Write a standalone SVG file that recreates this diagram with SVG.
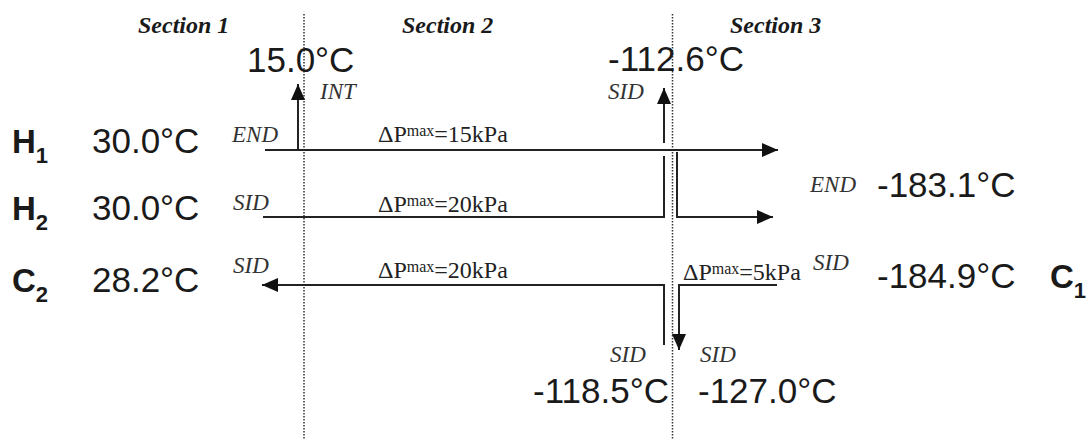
<svg xmlns="http://www.w3.org/2000/svg" width="1090" height="439" viewBox="0 0 1090 439">
<style>
.sec{font-family:"Liberation Serif",serif;font-weight:bold;font-style:italic;font-size:24px;fill:#1a1a1a}
.tag{font-family:"Liberation Serif",serif;font-style:italic;font-size:23px;fill:#333}
.dp{font-family:"Liberation Serif",serif;font-size:24px;fill:#222}
.sup{font-size:16px}
.temp{font-family:"Liberation Sans",Arial,sans-serif;font-size:35px;fill:#1a1a1a}
.nm{font-family:"Liberation Sans",Arial,sans-serif;font-weight:bold;font-size:33px;fill:#1a1a1a}
.sub{font-size:22px}
.ln{fill:none;stroke:#222;stroke-width:2}
.dot{fill:none;stroke:#333;stroke-width:1.5;stroke-dasharray:1.5 1.5}
</style>
<defs>
<marker id="ah" viewBox="0 0 16 14" refX="16" refY="7" markerWidth="16" markerHeight="14" markerUnits="userSpaceOnUse" orient="auto">
<path d="M0,0 L16,7 L0,14 z" fill="#111"/>
</marker>
</defs>
<g id="sections">
<line class="dot" x1="304" y1="14" x2="304" y2="439"/>
<line class="dot" x1="672.5" y1="14" x2="672.5" y2="439"/>
<text class="sec" x="138" y="33">Section 1</text>
<text class="sec" x="402" y="33">Section 2</text>
<text class="sec" x="730" y="33">Section 3</text>
</g>
<g id="connectors">
<path class="ln" d="M265,150 H778" marker-end="url(#ah)"/>
<path class="ln" d="M298,150 V84" marker-end="url(#ah)"/>
<path class="ln" d="M263,217 H664 V156"/>
<path class="ln" d="M664,143 V88" marker-end="url(#ah)"/>
<path class="ln" d="M677,152 V217 H773" marker-end="url(#ah)"/>
<path class="ln" d="M664,345 V285 H262" marker-end="url(#ah)"/>
<path class="ln" d="M777,285 H679 V350" marker-end="url(#ah)"/>
</g>
<g id="H1">
<text class="nm" x="12" y="153">H<tspan class="sub" dy="10">1</tspan></text>
<text class="temp" x="92" y="153">30.0°C</text>
<text class="tag" x="232" y="142">END</text>
<text class="dp" x="378" y="142">ΔP<tspan class="sup" dy="-6">max</tspan><tspan dy="6">=15kPa</tspan></text>
<text class="temp" x="247" y="72">15.0°C</text>
<text class="tag" x="320" y="99">INT</text>
<text class="tag" x="810" y="192">END</text>
<text class="temp" x="877" y="197">-183.1°C</text>
</g>
<g id="H2">
<text class="nm" x="12" y="220">H<tspan class="sub" dy="10">2</tspan></text>
<text class="temp" x="92" y="220">30.0°C</text>
<text class="tag" x="233" y="210">SID</text>
<text class="dp" x="378" y="212">ΔP<tspan class="sup" dy="-6">max</tspan><tspan dy="6">=20kPa</tspan></text>
<text class="temp" x="608" y="71">-112.6°C</text>
<text class="tag" x="608" y="99">SID</text>
</g>
<g id="C2">
<text class="nm" x="12" y="292">C<tspan class="sub" dy="10">2</tspan></text>
<text class="temp" x="92" y="292">28.2°C</text>
<text class="tag" x="233" y="273">SID</text>
<text class="dp" x="378" y="278">ΔP<tspan class="sup" dy="-6">max</tspan><tspan dy="6">=20kPa</tspan></text>
<text class="tag" x="610" y="362">SID</text>
<text class="temp" x="533" y="403">-118.5°C</text>
</g>
<g id="C1">
<text class="dp" x="683" y="280">ΔP<tspan class="sup" dy="-6">max</tspan><tspan dy="6">=5kPa</tspan></text>
<text class="tag" x="813" y="270">SID</text>
<text class="temp" x="877" y="288">-184.9°C</text>
<text class="nm" x="1050" y="288">C<tspan class="sub" dy="10">1</tspan></text>
<text class="tag" x="700" y="362">SID</text>
<text class="temp" x="698" y="403">-127.0°C</text>
</g>
</svg>
